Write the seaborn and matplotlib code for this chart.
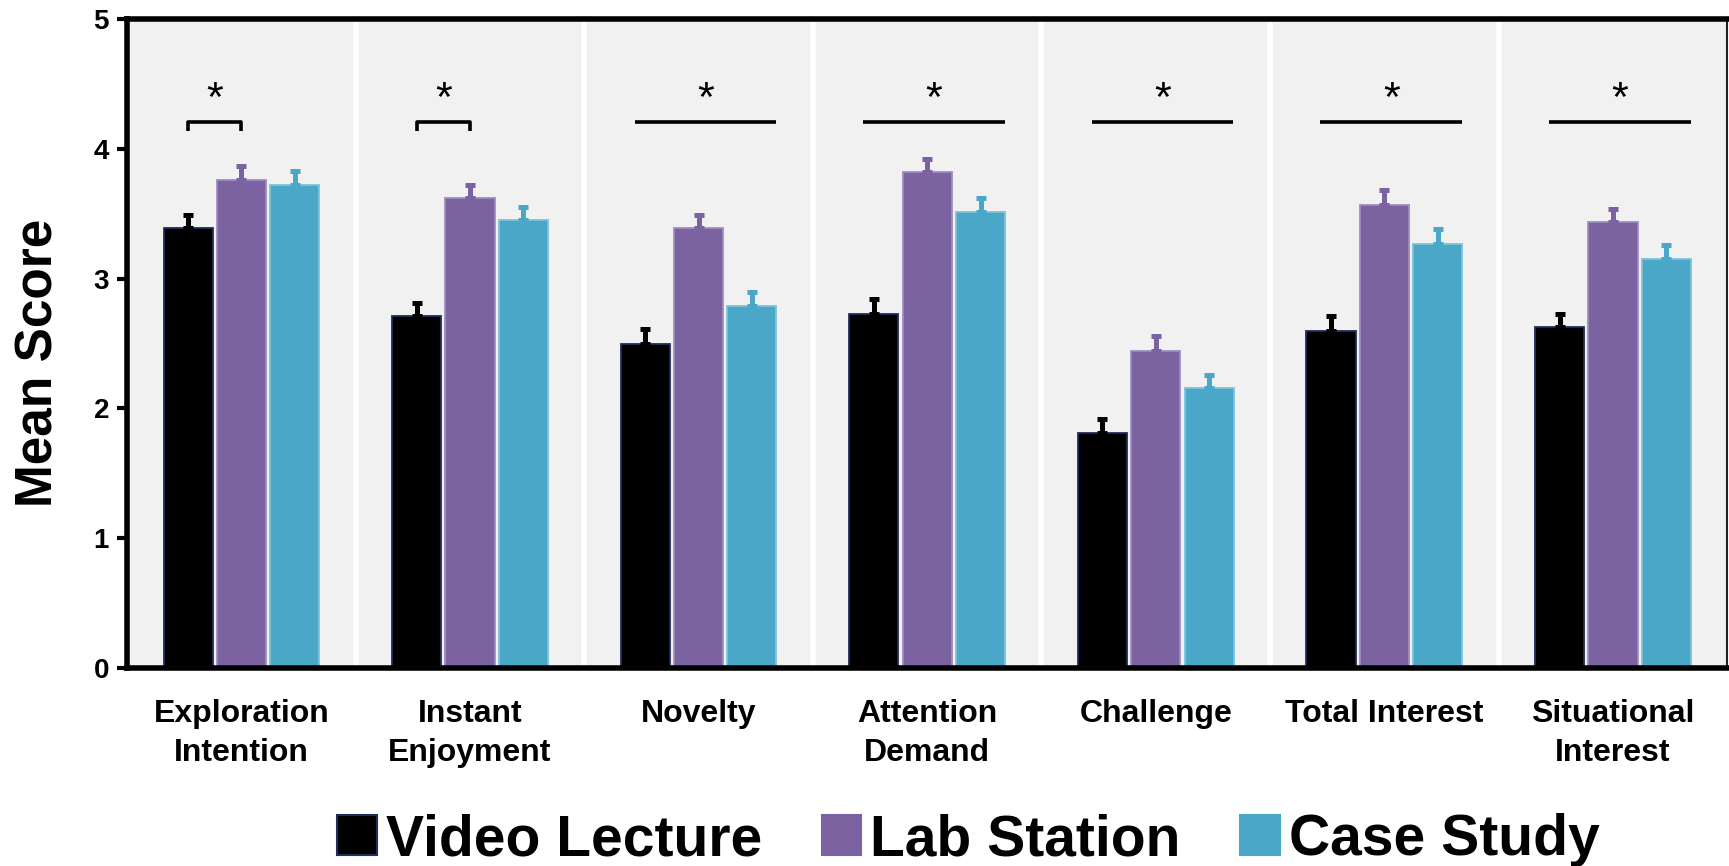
import numpy as np
import pandas as pd
import matplotlib
matplotlib.use("Agg")
import matplotlib.pyplot as plt
import seaborn as sns
from matplotlib.patches import Patch

# ---------------- data ----------------
categories = ["Exploration\nIntention", "Instant\nEnjoyment", "Novelty",
              "Attention\nDemand", "Challenge", "Total Interest",
              "Situational\nInterest"]
conditions = ["Video Lecture", "Lab Station", "Case Study"]

video_means = [3.39, 2.71, 2.50, 2.73, 1.81, 2.60, 2.63]
lab_means = [3.76, 3.62, 3.39, 3.82, 2.44, 3.57, 3.44]
case_means = [3.72, 3.45, 2.79, 3.51, 2.16, 3.27, 3.15]

video_err = [0.10, 0.10, 0.11, 0.11, 0.11, 0.11, 0.10]
lab_err = [0.11, 0.10, 0.10, 0.10, 0.12, 0.11, 0.10]
case_err = [0.11, 0.10, 0.11, 0.11, 0.10, 0.11, 0.11]

sig_kind = ["pair", "pair", "all", "all", "all", "all", "all"]
sig_text = ["*", "*", "*", "*", "*", "*", "*"]
y_ticks = [0, 1, 2, 3, 4, 5]

# ---------------- style ----------------
sns.set_style("white")
plt.rcParams["font.family"] = ["Liberation Sans", "DejaVu Sans"]
plt.rcParams["text.color"] = "black"
plt.rcParams["axes.labelcolor"] = "black"
plt.rcParams["xtick.color"] = "black"
plt.rcParams["ytick.color"] = "black"

fill_colors = ["#000000", "#7b62a1", "#4aa7c8"]
edge_colors = ["#1f2f5c", "#a08cc0", "#7cc3dc"]
err_colors = ["#000000", "#7b62a1", "#4aa7c8"]

df = pd.DataFrame({
    "Category": categories * 3,
    "Condition": sum([[c] * len(categories) for c in conditions], []),
    "Mean": video_means + lab_means + case_means,
})

fig = plt.figure(figsize=(17.29, 8.66), dpi=100)
ax = fig.add_axes([0.0735, 0.2286, 0.9255, 0.7494])
ax.set_facecolor("#f1f1f1")

sns.barplot(data=df, x="Category", y="Mean", hue="Condition",
            hue_order=conditions, order=categories,
            palette=fill_colors, saturation=1, width=0.7, gap=0.08,
            errorbar=None, legend=False, ax=ax, zorder=2)

errs = [video_err, lab_err, case_err]
centers = []
for cont, ec, col, er in zip(ax.containers, edge_colors, err_colors, errs):
    xs, ys = [], []
    for b in cont:
        b.set_edgecolor(ec)
        b.set_linewidth(1.3)
        xs.append(b.get_x() + b.get_width() / 2)
        ys.append(b.get_height())
    centers.append(xs)
    ax.errorbar(xs, ys, yerr=[np.zeros(len(er)), er], fmt="none",
                ecolor=col, elinewidth=3.6, capsize=3.4, capthick=3.6,
                zorder=3)

# group separators
for i in range(len(categories) - 1):
    ax.axvline(i + 0.5, color="white", lw=4, zorder=1)

ax.set_xlim(-0.5, len(categories) - 0.5)
ax.set_ylim(0, 5)
ax.set_yticks(y_ticks)

# significance marks
line_y = 4.21
for i, (kind, txt) in enumerate(zip(sig_kind, sig_text)):
    if kind == "pair":
        x1, x2 = centers[0][i], centers[1][i]
        ax.plot([x1, x1, x2, x2], [line_y - 0.075, line_y, line_y, line_y - 0.075],
                color="black", lw=2.6, solid_capstyle="butt", zorder=4)
    else:
        x1, x2 = i - 0.28, i + 0.34
        ax.plot([x1, x2], [line_y, line_y], color="black", lw=2.6,
                solid_capstyle="butt", zorder=4)
    ax.text((x1 + x2) / 2, 4.29, txt, ha="center", va="baseline",
            fontsize=31, color="black", zorder=4)

# spines
for s in ["top", "left", "bottom"]:
    ax.spines[s].set_visible(True)
    ax.spines[s].set_color("black")
    ax.spines[s].set_linewidth(4)
ax.spines["right"].set_visible(True)
ax.spines["right"].set_color("#222222")
ax.spines["right"].set_linewidth(1.5)

ax.tick_params(axis="y", length=7, width=3, direction="out", left=True,
               labelsize=20, pad=6, colors="black")
ax.tick_params(axis="x", length=0, labelsize=23, pad=22, colors="black")
for lab in ax.get_xticklabels():
    lab.set_fontweight("bold")
    lab.set_linespacing(1.42)
for lab in ax.get_yticklabels():
    lab.set_fontweight("bold")
ax.set_xlabel("")
ax.set_ylabel("Mean Score", fontsize=37, fontweight="bold", color="black")
ax.yaxis.set_label_coords(-0.04, 0.47)

handles = [Patch(facecolor=f, edgecolor=e, linewidth=1.5)
           for f, e in zip(fill_colors, ["#1f2f5c", fill_colors[1], fill_colors[2]])]
fig.legend(handles, conditions, loc="center", bbox_to_anchor=(0.56, 0.03),
           ncol=3, frameon=False, prop={"weight": "bold", "size": 41},
           handlelength=0.7, handleheight=0.7, handletextpad=0.15,
           columnspacing=1.05, labelcolor="black")

fig.savefig("out.png", dpi=100)
